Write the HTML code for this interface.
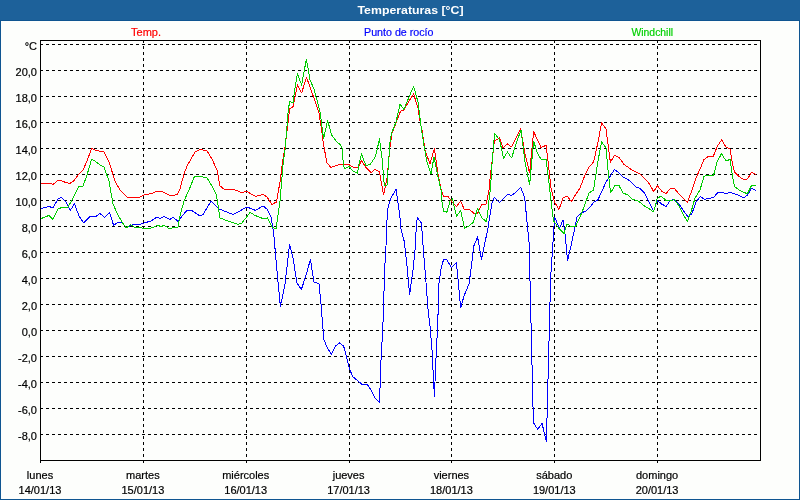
<!DOCTYPE html>
<html><head><meta charset="utf-8"><title>Temperaturas [°C]</title>
<style>
html,body{margin:0;padding:0;background:#0f5591;}
body{width:800px;height:500px;overflow:hidden;position:relative;font-family:"Liberation Sans",sans-serif;}
svg{position:absolute;left:0;top:0;display:block}
text{font-family:"Liberation Sans",sans-serif;font-size:11px;}
</style></head><body>
<svg width="800" height="500" viewBox="0 0 800 500">
<rect x="0" y="0" width="800" height="500" fill="#0f5591"/>
<rect x="0" y="0" width="800" height="20" fill="#1d619a"/>
<rect x="1" y="21" width="798" height="478" fill="#fdfefc"/>
<text x="357.5" y="14" fill="#ffffff" font-weight="bold" textLength="106" lengthAdjust="spacingAndGlyphs">Temperaturas [°C]</text>
<text x="131" y="36" fill="#ff0000" stroke="#ff0000" stroke-width="0.2" textLength="30" lengthAdjust="spacingAndGlyphs">Temp.</text>
<text x="364" y="36" fill="#0000ff" stroke="#0000ff" stroke-width="0.2" textLength="69.5" lengthAdjust="spacingAndGlyphs">Punto de rocío</text>
<text x="631.5" y="36" fill="#00d000" stroke="#00d000" stroke-width="0.2" textLength="41.5" lengthAdjust="spacingAndGlyphs">Windchill</text>

<g stroke="#000" stroke-width="1" stroke-dasharray="3 3" fill="none" shape-rendering="crispEdges">
<line x1="40" y1="434.5" x2="760" y2="434.5"/>
<line x1="40" y1="408.5" x2="760" y2="408.5"/>
<line x1="40" y1="382.5" x2="760" y2="382.5"/>
<line x1="40" y1="356.5" x2="760" y2="356.5"/>
<line x1="40" y1="330.5" x2="760" y2="330.5"/>
<line x1="40" y1="304.5" x2="760" y2="304.5"/>
<line x1="40" y1="278.5" x2="760" y2="278.5"/>
<line x1="40" y1="252.5" x2="760" y2="252.5"/>
<line x1="40" y1="226.5" x2="760" y2="226.5"/>
<line x1="40" y1="200.5" x2="760" y2="200.5"/>
<line x1="40" y1="174.5" x2="760" y2="174.5"/>
<line x1="40" y1="148.5" x2="760" y2="148.5"/>
<line x1="40" y1="122.5" x2="760" y2="122.5"/>
<line x1="40" y1="96.5" x2="760" y2="96.5"/>
<line x1="40" y1="70.5" x2="760" y2="70.5"/>
<line x1="40" y1="44.5" x2="760" y2="44.5"/>
<line x1="143.5" y1="40" x2="143.5" y2="460"/>
<line x1="246.5" y1="40" x2="246.5" y2="460"/>
<line x1="349.5" y1="40" x2="349.5" y2="460"/>
<line x1="451.5" y1="40" x2="451.5" y2="460"/>
<line x1="554.5" y1="40" x2="554.5" y2="460"/>
<line x1="657.5" y1="40" x2="657.5" y2="460"/>
</g>
<g stroke="#000" stroke-width="1" fill="none" shape-rendering="crispEdges">
<rect x="40.5" y="40.5" width="720" height="420"/>
<line x1="40.5" y1="461" x2="40.5" y2="463"/>
<line x1="143.5" y1="461" x2="143.5" y2="463"/>
<line x1="246.5" y1="461" x2="246.5" y2="463"/>
<line x1="349.5" y1="461" x2="349.5" y2="463"/>
<line x1="451.5" y1="461" x2="451.5" y2="463"/>
<line x1="554.5" y1="461" x2="554.5" y2="463"/>
<line x1="657.5" y1="461" x2="657.5" y2="463"/>
</g>
<g fill="#000" stroke="#000" stroke-width="0.2" text-anchor="end">
<text x="37" y="50">°C</text>
<text x="37" y="440">-8,0</text>
<text x="37" y="414">-6,0</text>
<text x="37" y="388">-4,0</text>
<text x="37" y="362">-2,0</text>
<text x="37" y="336">0,0</text>
<text x="37" y="310">2,0</text>
<text x="37" y="284">4,0</text>
<text x="37" y="258">6,0</text>
<text x="37" y="232">8,0</text>
<text x="37" y="206">10,0</text>
<text x="37" y="180">12,0</text>
<text x="37" y="154">14,0</text>
<text x="37" y="128">16,0</text>
<text x="37" y="102">18,0</text>
<text x="37" y="76">20,0</text>
</g>
<g fill="#000" stroke="#000" stroke-width="0.2" text-anchor="middle">
<text x="40.0" y="479">lunes</text>
<text x="40.0" y="494">14/01/13</text>
<text x="142.9" y="479">martes</text>
<text x="142.9" y="494">15/01/13</text>
<text x="245.7" y="479">miércoles</text>
<text x="245.7" y="494">16/01/13</text>
<text x="348.6" y="479">jueves</text>
<text x="348.6" y="494">17/01/13</text>
<text x="451.4" y="479">viernes</text>
<text x="451.4" y="494">18/01/13</text>
<text x="554.3" y="479">sábado</text>
<text x="554.3" y="494">19/01/13</text>
<text x="657.1" y="479">domingo</text>
<text x="657.1" y="494">20/01/13</text>
</g>
<polyline points="41,184 50,183 53,184.4 58,180.4 61,180.6 66,182.6 70,183.4 74,180.6 79,174 83,170 87,161 91.6,148.6 97,150.6 104,151.8 109,162 115,181 120,190 127,197 139,197.4 144,195 152,193.4 156,191.6 162,191.6 170,195.4 174,195.4 177.6,194 180,189 184,174 187,166 190,161 195,152 200,149.4 207,151 212,159 217,170 220,186 224,189 233,189 241,192.4 247,191.6 255.6,196.4 263,194.4 267,197 272,204.4 276.4,202 280,182 282.4,163 285,147 287.6,126 289.6,109 293,106.6 297.5,85 301.6,93 306.5,77.3 311,90 315,101 319,113 321.6,130 323.6,145 327,163 331,167.4 339,164.6 349,164.6 353.5,167.5 358,167.5 361.5,160.5 365.5,167 371,172.6 375,169.4 379.4,172 383.6,195 387,178 390,147 392,133 396,123 400.6,111 404,110 409,101 413.6,94 418,108 420,121 422,130 425,150 430,164 434.4,148.4 438,174 441.5,191 443.5,196.2 448,196.5 452,202 456.5,206.5 460.7,201.2 464.5,210 469,209 474,213.5 477.5,213.5 481.5,205 486.2,204 487.2,199.5 489,190 490.3,176 491.6,166 494.4,141 499.6,138 503,148 507.4,144 511.4,147 515.6,139 520.6,128.4 525,154 529.6,173 533.6,131.4 537,139 541,147.4 546,145.4 548,161 551,188 554.4,202 559,209.4 563,198 567,196 571.4,201.6 576,194 580,188 585,175 589,167 593.6,162 598,142 601.6,123 606,129 610.4,162.4 614.4,155.4 619,157.4 624,164.4 632,170 640,174 645,179 649.6,184 653.6,191.6 657.4,185.6 661.6,191 666,193.6 670.4,188.4 674.4,188.4 679,194 683,198 687.4,202.4 692,190 696,178 700,169 704,159.6 709,156 713,157 717.4,146 721.6,140 726,147 730,149 732,161 734.4,172 739,176.4 743.4,179.4 747.4,179 751.6,172.4 756,174.4" fill="none" stroke="#ff0000" stroke-width="1" stroke-linejoin="round" shape-rendering="crispEdges"/>
<polyline points="41,208.6 49,206.4 53,208 58,199 61.6,197.4 66,202 70.4,210.4 74.4,203.6 79,216 83.6,223 90,216.4 96,216.4 100,213.4 104.4,217.4 109.6,212.4 113.6,225.4 118,222.4 122,223 126.4,227.4 133,224.4 138,225 144,223 151,221 157,217 160,218.4 164,216.4 170,219.4 173,217 178,221.4 183,215 187,210.4 192,210.6 200,216 203,214.6 211,201 219,209 233,214.4 238,212 247,207 255.6,210.4 263,206 267,209 271,217 273.6,232 276,260 278.4,286 280.4,306.4 285,284 289.6,244.4 293,258 297,283 301.4,289.4 306.4,274 310.4,259.4 314,282 319,283.6 321,304 322.4,322 324,340 327,347 331.4,354.4 335.6,346 339.4,343 343.6,346 346.4,356 349.4,369 353,377 357,380 362,384.4 367,384 371,390 375,398 379.6,402.4 380.6,368 382,342 383.6,310 384.4,274 386,246 387,220 387.6,209 391,198 396,189.4 399,210 400.5,222 401,229 404.4,242 407,266 409.6,294.4 413,270 415,250 416.6,222 417.6,218 421.4,223 423,245 425.6,277 428,309 430,326 432,350 434.4,396.4 436,358 437.6,326 438,315 439,283 441,269 443.6,259.4 447,260 451.4,267.4 456.4,262.4 458.4,283 460.6,308 464,296 469,284 471.6,265 473.6,246.6 477.6,237 481.4,259.4 485.5,240 488,228 490,215 492,203 494.5,197.2 499.5,202.5 504,198 508,194.2 511,195.5 515,193 516.5,191.5 520.6,187.4 524.6,197 529.1,243 533.4,422.5 537.7,429.4 542,423.4 546.4,441.5 550.6,279 554.6,217 559.4,228.4 563,220 565,234 567.6,260.4 571,246 575,227 577,217 581,213 586,211 590,207 594,202 598,199.8 602,191 606,182 610.4,176 614.4,169.4 619,173 623,177 628,179.5 632,183 636,187 640,188.5 645,193.6 649.6,203 653.6,211 657.4,200.4 661.6,204 666,206.4 670,201 674,199.4 679,204 683,210 688,217 692,213.4 696,202 700.4,196.4 704.6,199.4 709,198.4 713.4,197.4 718,192.6 722,192.6 726,193.6 730.4,192.4 735,194 739,195.4 743.4,198 747.4,195 751.6,188.4 756,190.6" fill="none" stroke="#0000ff" stroke-width="1" stroke-linejoin="round" shape-rendering="crispEdges"/>
<polyline points="41,218.6 49,215.4 53,219.4 58,209 62,207.4 68,207 72,200 79,186 83,186 87,175 91.6,159.4 95,161 100,165 104,167 109,181 113,204 117,213 122,222 126.4,228 130.4,224.6 135,227.4 140,227 144,229 151,228 158,225.4 161,226.6 164,225.4 170,229 174,227 178,227 180,216 184,201 189,190 194.4,176.6 200,176.4 207,178 212,186 216.4,195 220,218 228,221 238,224.4 242,223 250,212.4 255,215.4 264,219 267.6,218 272,227 276,229 280,201 283,165 285,150 287,126 288.4,108 290,101.4 293,103 295,88 297.4,73.6 301.6,85 306.4,59 310,80 314,89 318,104 320.4,114 323.6,139 327.6,120.4 331.6,135 336,141 340.5,145 342,148 343.5,166 345,168.5 349,166.5 352.5,170.5 357.5,173.5 359,164 361.5,154 366,166 370.5,164 375.5,156.5 379.5,139 382,158 384.3,185 387,185 390,142 391.6,133 396,122 400,104.4 404,109.4 409,97 413.6,86.4 418,102 420,118 421.6,130 424,146 427,162 431,173.6 434,157 438,177 441,190 442,202 443.5,211 447,212.2 450,201 452.5,199 456.5,216.5 460.7,210.5 464.5,228.5 469,226 473.5,222 477.5,208.5 482,218 486.5,221.8 488,210 489,200 490.5,188 492,164 494.6,133.5 499.6,140 503.6,158.4 507.4,152 511.6,158 516,144 521,130 525,162 529.6,185 533.6,141 537,152 541.4,160 546,159 548.4,178 551.6,206 553.6,221 559.4,229 564,233.6 567,224 571,226.4 575.6,226.4 580,217 584,207 589,193 593.6,190 597.6,163 601.6,142 606,148 608,170 610.6,193 615,185.5 619,185.5 623,193 628,195 632,199 638,201 640,202.4 645,206.5 649.6,209 653.6,212 657,199 661,196 666,200.4 670,201 674.4,199.4 679,206 683,214 687.4,221.6 691.6,210 695,198 700,190 704,176.4 708,175 713.6,175 717.4,161 721.6,153.6 726,161 730,159.4 732,173 734.4,186.4 739,190 743.4,192.4 747.4,193.6 751.6,185.4 756,185.4" fill="none" stroke="#00cc00" stroke-width="1" stroke-linejoin="round" shape-rendering="crispEdges"/>
</svg></body></html>
